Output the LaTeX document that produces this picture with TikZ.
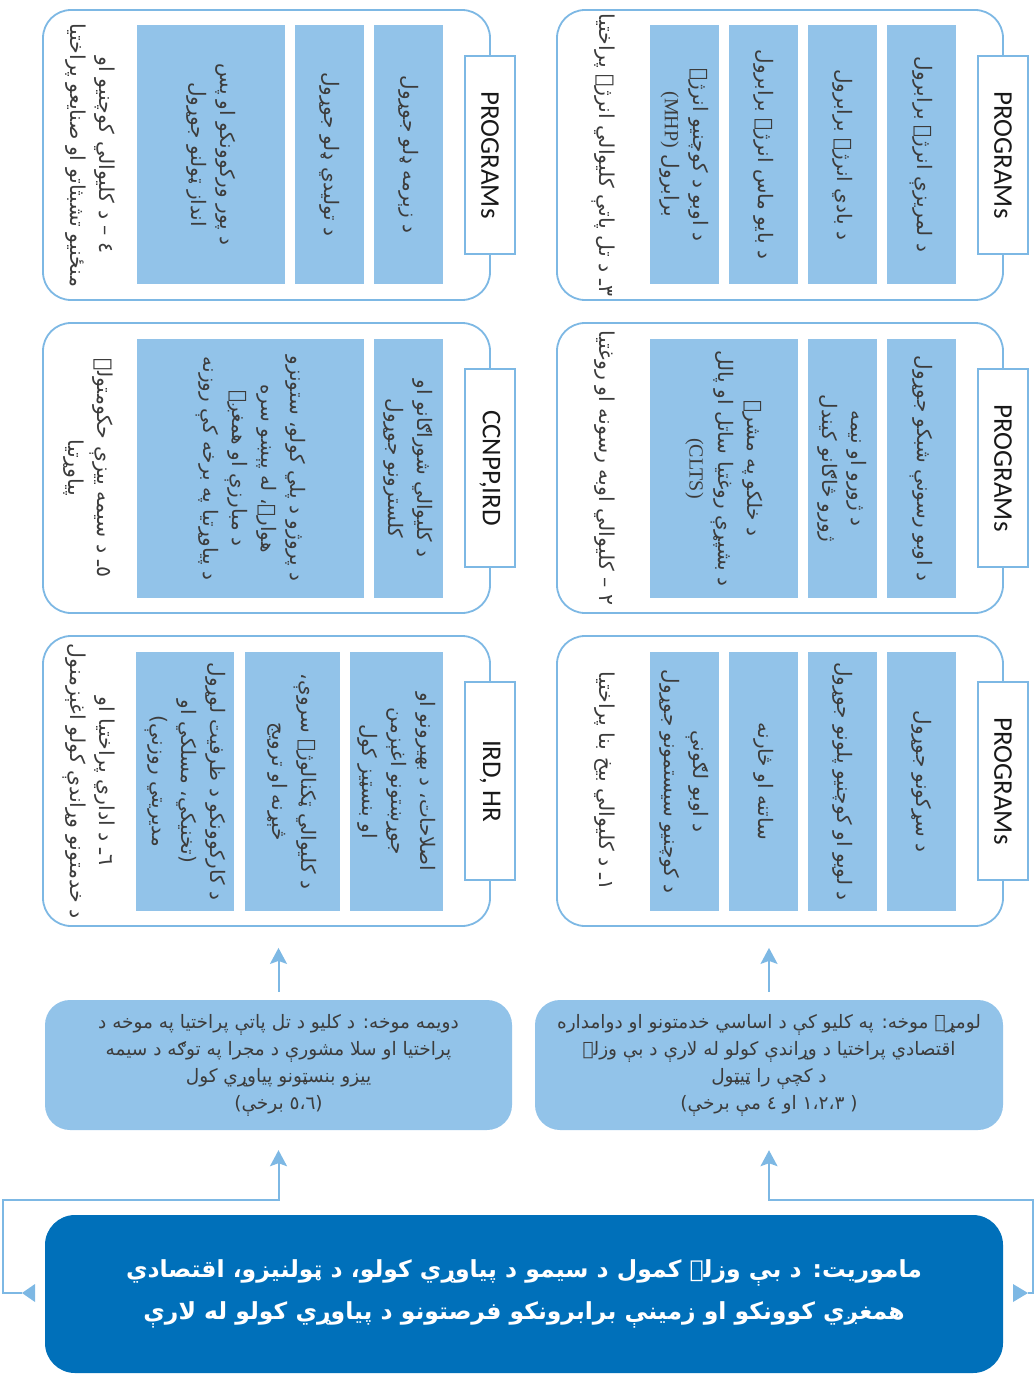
\documentclass[tikz,border=0pt]{standalone}
\usepackage{fontspec}
\usetikzlibrary{arrows.meta}
\TeXXeTstate=1
\setmainfont{Liberation Serif}
\newfontfamily\pfont[Script=Arabic]{DejaVu Sans}
\newfontfamily\tabfont{Carlito}
\newcommand{\rtlx}[1]{\beginR #1\endR}
\newcommand{\ltrx}[1]{\beginL #1\endL}
\definecolor{lineblue}{HTML}{7DB8E4}
\definecolor{fillblue}{HTML}{92C3E9}
\definecolor{missionblue}{HTML}{0070BA}
\definecolor{txtgray}{HTML}{3C3C3C}
\tikzset{
  outerbox/.style={draw=lineblue, line width=1.8pt, rounded corners=28pt, fill=white, minimum height=290pt, inner sep=0pt},
  colbox/.style={fill=fillblue, rotate=-90, align=center, text=txtgray, inner sep=0pt, minimum width=259pt,
    font=\pfont\fontsize{20}{29}\selectfont},
  tabbox/.style={draw=lineblue, line width=1.8pt, fill=white, rotate=-90, text=black!90,
    font=\tabfont\fontsize{27}{30}\selectfont, minimum width=198pt, minimum height=50pt, inner sep=0pt},
  sidelabel/.style={rotate=-90, align=center, text=txtgray, inner sep=0pt,
    font=\pfont\fontsize{20.5}{29}\selectfont},
  goalbox/.style={fill=fillblue, rounded corners=25pt, align=center, text=txtgray, inner sep=0pt,
    minimum height=130pt, font=\pfont\fontsize{18.5}{27}\selectfont},
  missionbox/.style={fill=missionblue, rounded corners=30pt, align=center, text=white, inner sep=0pt,
    minimum width=958pt, minimum height=158pt, font=\pfont\bfseries\fontsize{23.5}{42}\selectfont},
  conn/.style={draw=lineblue, line width=2pt},
  tip/.style={-{Stealth[length=16pt,width=17pt,inset=3pt]}}
}
\begin{document}
\begin{tikzpicture}[x=1pt,y=-1pt]
\useasboundingbox (0,0) rectangle (1035,1380);

% ---------- right column ----------
\node[outerbox, minimum width=446pt] (boxA) at (780,155) {};
\node[outerbox, minimum width=446pt] (boxB) at (780,468) {};
\node[outerbox, minimum width=446pt] (boxC) at (780,781) {};
\node[tabbox] (tabA) at (1003,155) {PROGRAMs};
\node[tabbox] (tabB) at (1003,468) {PROGRAMs};
\node[tabbox] (tabC) at (1003,781) {PROGRAMs};

\node[colbox, minimum height=69pt] (a1) at (921.5,154.5) {\rtlx{د لمريزې انرژۍ برابرول}};
\node[colbox, minimum height=69pt] (a2) at (842.5,154.5) {\rtlx{د بادي انرژۍ برابرول}};
\node[colbox, minimum height=69pt] (a3) at (763.5,154.5) {\rtlx{د بايو ماس انرژۍ برابرول}};
\node[colbox, minimum height=69pt] (a4) at (684.5,154.5) {\rtlx{د اوبو د کوچنيو انرژۍ}\\\rtlx{برابرول \ltrx{\rmfamily (MHP)}}};
\node[sidelabel] (labA) at (603,155) {\rtlx{٣ـ د تل پاتې کليوالي انرژۍ پراختيا}};

\node[colbox, minimum height=69pt] (b1) at (921.5,468.5) {\rtlx{د اوبو رسونې شبکو جوړول}};
\node[colbox, minimum height=69pt] (b2) at (842.5,468.5) {\rtlx{د ژورو او نيمه}\\\rtlx{ژورو څاګانو کيندل}};
\node[colbox, minimum height=148pt] (b3) at (724,468.5) {\rtlx{د خلکو په مشرۍ}\\\rtlx{د بشپړې روغتيا ساتل او پالل}\\{\rmfamily (CLTS)}};
\node[sidelabel] (labB) at (605,468) {\rtlx{٢ – کليوالي اوبه رسونه او روغتيا}};

\node[colbox, minimum height=69pt] (c1) at (921.5,781.5) {\rtlx{د سړکونو جوړول}};
\node[colbox, minimum height=69pt] (c2) at (842.5,781.5) {\rtlx{د لويو او کوچنيو پلونو جوړول}};
\node[colbox, minimum height=69pt] (c3) at (763.5,781.5) {\rtlx{ساتنه او څارنه}};
\node[colbox, minimum height=69pt] (c4) at (684.5,781.5) {\rtlx{د اوبو لګونې}\\\rtlx{د کوچنيو سيستمونو جوړول}};
\node[sidelabel] (labC) at (605,781) {\rtlx{١ـ د کليوالي بيخ بنا پراختيا}};

% ---------- left column ----------
\node[outerbox, minimum width=447pt] (boxD) at (266.5,155) {};
\node[outerbox, minimum width=447pt] (boxE) at (266.5,468) {};
\node[outerbox, minimum width=447pt] (boxF) at (266.5,781) {};
\node[tabbox] (tabD) at (490,155) {PROGRAMs};
\node[tabbox] (tabE) at (490,468) {CCNPP,IRD};
\node[tabbox] (tabF) at (490,781) {IRD, HR};

\node[colbox, minimum height=69pt] (d1) at (408.5,154.5) {\rtlx{د زېرمه ډلو جوړول}};
\node[colbox, minimum height=69pt] (d2) at (329.5,154.5) {\rtlx{د توليدي ډلو جوړول}};
\node[colbox, minimum height=148pt] (d3) at (211,154.5) {\rtlx{د پور ورکوونکو او پس}\\\rtlx{انداز ټولنو جوړول}};
\node[sidelabel] (labD) at (90,155) {\rtlx{٤ – د کليوالي کوچنيو او}\\\rtlx{منځنيو تشبثاتو او صنايعو پراختيا}};

\node[colbox, minimum height=69pt] (e1) at (408.5,468.5) {\rtlx{د کليوالي شوراګانو او}\\\rtlx{کلسترونو جوړول}};
\node[colbox, minimum height=227pt] (e2) at (250.5,468.5) {\rtlx{د پروژو د پلي کولو، ستونزو}\\\rtlx{هوارۍ، له پېښو سره}\\\rtlx{د مبارزې او همغږۍ}\\\rtlx{د پياوړتيا په برخه کې روزنه}};
\node[sidelabel] (labE) at (88,468) {\rtlx{٥ـ د سيمه ييزې حکومتولۍ}\\\rtlx{پياوړتيا}};

\node[colbox, minimum height=93pt] (f1) at (396.5,781.5) {\rtlx{اصلاحات، د بهيرونو او}\\\rtlx{جوړښتونو اغېزمن}\\\rtlx{او بنسټيز کول}};
\node[colbox, minimum height=95pt] (f2) at (292.5,781.5) {\rtlx{د کليوالي ټکنالوژۍ سروې،}\\\rtlx{څېړنه او ترويج}};
\node[colbox, minimum height=98pt] (f3) at (185,781.5) {\rtlx{د کارکوونکو د ظرفيت لوړول}\\\rtlx{(تخنيکي، مسلکي او}\\\rtlx{مديريتي روزنې)}};
\node[sidelabel] (labF) at (89,781) {\rtlx{٦ـ د اداري پراختيا او}\\\rtlx{د خدمتونو وړاندې کولو اغېزمنول}};

% ---------- goals ----------
\node[goalbox, minimum width=468pt] (goal1) at (769,1065) {\rtlx{لومړۍ موخه: په کليو کې د اساسي خدمتونو او دوامداره}\\\rtlx{اقتصادي پراختيا د وړاندې کولو له لارې د بې وزلۍ}\\\rtlx{د کچې را ټيټول}\\\rtlx{( ١،٢،٣ او ٤ مې برخې)}};
\node[goalbox, minimum width=467pt] (goal2) at (278.5,1065) {\rtlx{دويمه موخه: د کليو د تل پاتې پراختيا په موخه د}\\\rtlx{پراختيا او سلا مشورې د مجرا په توګه د سيمه}\\\rtlx{ييزو بنسټونو پياوړي کول}\\\rtlx{(٥،٦ برخې)}};

% ---------- mission ----------
\node[missionbox] (mission) at (524,1294) {\rtlx{ماموريت: د بې وزلۍ کمول د سيمو د پياوړي کولو، د ټولنيزو، اقتصادي}\\\rtlx{همغږي کوونکو او زمينې برابرونکو فرصتونو د پياوړي کولو له لارې}};

% ---------- connectors ----------
\draw[conn, tip, shorten <=8pt, shorten >=21pt] (goal1.north) -- (goal1.north |- boxC.south);
\draw[conn, tip, shorten <=8pt, shorten >=21pt] (goal2.north) -- (goal2.north |- boxF.south);

\coordinate (lcorner) at (3,1200);
\coordinate (rcorner) at (1033,1200);
\coordinate (ltip) at (22,1293);
\coordinate (rtip) at (1028,1293);
\fill[lineblue] (ltip) -- ++(13,-9) -- ++(0,18) -- cycle;
\fill[lineblue] (rtip) -- ++(-15,-9) -- ++(0,18) -- cycle;
\draw[conn, tip, shorten >=20pt] (ltip) -| (lcorner) -| (goal2.south);
\draw[conn, tip, shorten >=20pt] (rtip) -| (rcorner) -| (goal1.south);
\end{tikzpicture}
\end{document}
